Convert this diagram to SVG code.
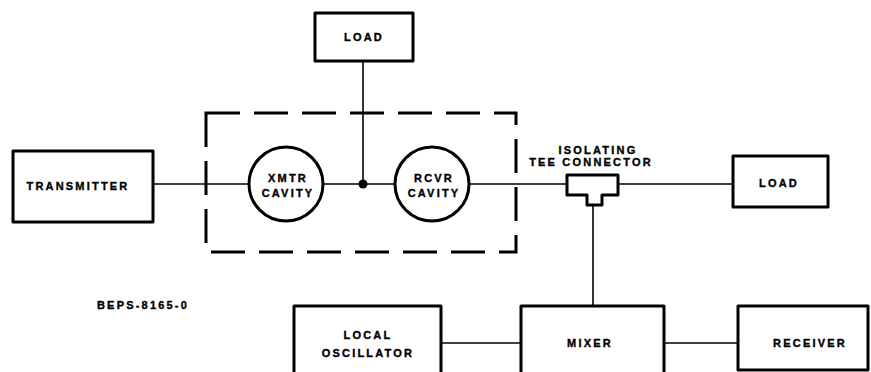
<svg xmlns="http://www.w3.org/2000/svg" width="871" height="372" viewBox="0 0 871 372">
<style>
.box{fill:#fff;stroke:#000;stroke-width:3;stroke-linejoin:round}
.cav{fill:#fff;stroke:#000;stroke-width:3}
.ln{fill:none;stroke:#000;stroke-width:1.6}
.dash{fill:none;stroke:#000;stroke-width:3;stroke-dasharray:34 14}
text{font-family:"Liberation Sans",Arial,sans-serif;font-weight:bold;font-size:11px;letter-spacing:2.2px;text-anchor:middle;fill:#000;stroke:#000;stroke-width:0.35}
</style>
<rect width="871" height="372" fill="#fff"/>
<g id="connectors">
<line class="ln" x1="153" y1="184" x2="249" y2="184"/>
<line class="ln" x1="323" y1="184" x2="395" y2="184"/>
<line class="ln" x1="469" y1="184" x2="567" y2="184"/>
<line class="ln" x1="618" y1="184" x2="733" y2="184"/>
<line class="ln" x1="363" y1="61" x2="363" y2="184"/>
<circle cx="363" cy="184" r="4.5" fill="#000"/>
<line class="ln" x1="593" y1="205" x2="593" y2="306"/>
<line class="ln" x1="441" y1="343" x2="521" y2="343"/>
<line class="ln" x1="664" y1="343" x2="738" y2="343"/>
</g>
<g id="duplexer">
<rect class="dash" x="206" y="113" width="310" height="139"/>
</g>
<g id="transmitter">
<rect class="box" x="13" y="151" width="140" height="71"/>
<text x="78" y="190" letter-spacing="2.6">TRANSMITTER</text>
</g>
<g id="load-top">
<rect class="box" x="315" y="13" width="98" height="48"/>
<text x="364" y="41">LOAD</text>
</g>
<g id="xmtr-cavity">
<circle class="cav" cx="286" cy="184" r="37"/>
<text x="288" y="182">XMTR</text>
<text x="288" y="197">CAVITY</text>
</g>
<g id="rcvr-cavity">
<circle class="cav" cx="432" cy="184" r="37"/>
<text x="434" y="182">RCVR</text>
<text x="434" y="197">CAVITY</text>
</g>
<g id="tee">
<path class="box" d="M567,175 H618 V195 H602 V205 H587 V195 H567 Z"/>
<text x="598" y="154">ISOLATING</text>
<text x="591" y="166">TEE CONNECTOR</text>
</g>
<g id="load-right">
<rect class="box" x="733" y="156" width="95" height="51"/>
<text x="779" y="187">LOAD</text>
</g>
<g id="label">
<text x="143" y="309" letter-spacing="1.8">BEPS-8165-0</text>
</g>
<g id="local-oscillator">
<rect class="box" x="294" y="306" width="147" height="72"/>
<text x="368" y="339">LOCAL</text>
<text x="368" y="357">OSCILLATOR</text>
</g>
<g id="mixer">
<rect class="box" x="521" y="306" width="143" height="72"/>
<text x="590" y="347">MIXER</text>
</g>
<g id="receiver">
<rect class="box" x="738" y="306" width="130" height="64"/>
<text x="810" y="347">RECEIVER</text>
</g>
</svg>
